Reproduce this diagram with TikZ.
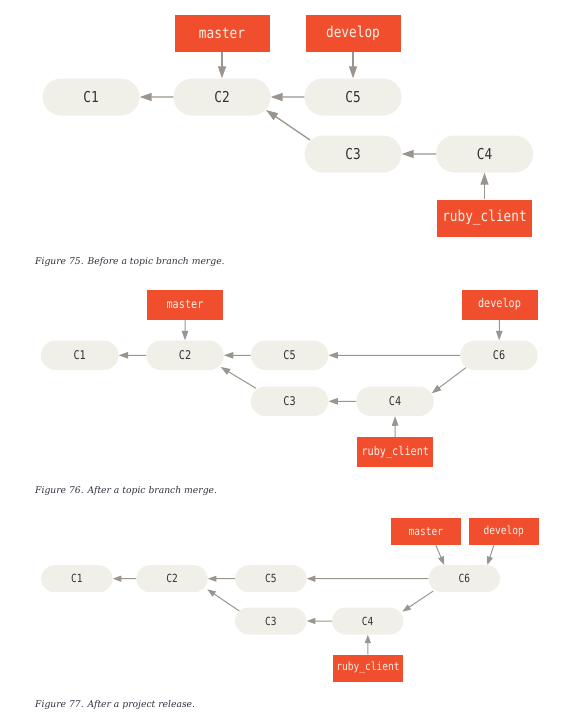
\documentclass[tikz,border=0pt]{standalone}
\usepackage{fontspec}
\setmainfont{Liberation Serif}
\newfontfamily\monof[FakeStretch=0.85]{DejaVu Sans Mono}
\newfontfamily\capf{DejaVu Serif}
\usetikzlibrary{shapes.misc,arrows.meta,calc}
\definecolor{cfill}{HTML}{F0EFE8}
\definecolor{cred}{HTML}{F14E2E}
\definecolor{carrow}{HTML}{9A958F}
\definecolor{ctext}{HTML}{333333}
\definecolor{clabel}{HTML}{F6F2EA}
\definecolor{ccap}{HTML}{2E2E3E}
\tikzset{
  commitbase/.style={rounded rectangle, fill=cfill, draw=none, inner sep=0pt, text=ctext},
  labelbase/.style={rectangle, fill=cred, draw=none, inner sep=0pt, text=clabel},
  ca/.style={commitbase, minimum width=97pt, minimum height=37pt, font=\monof\fontsize{15}{15}\selectfont},
  la/.style={labelbase, minimum width=95pt, minimum height=37pt, font=\monof\fontsize{15}{15}\selectfont},
  aa/.style={draw=carrow, line width=1.3pt, -{Triangle[length=12pt,width=8pt]}},
  cb/.style={commitbase, minimum width=77.5pt, minimum height=29.5pt, font=\monof\fontsize{12}{12}\selectfont},
  lb/.style={labelbase, minimum width=76pt, minimum height=30pt, font=\monof\fontsize{12}{12}\selectfont},
  ab/.style={draw=carrow, line width=1pt, -{Triangle[length=9.5pt,width=6.5pt]}},
  cc/.style={commitbase, minimum width=71.5pt, minimum height=27pt, font=\monof\fontsize{11.2}{11.2}\selectfont},
  lc/.style={labelbase, minimum width=70pt, minimum height=27pt, font=\monof\fontsize{11.2}{11.2}\selectfont},
  ac/.style={draw=carrow, line width=1pt, -{Triangle[length=8.5pt,width=6pt]}},
  caption/.style={anchor=west, inner sep=0pt, text=ccap, font=\capf\itshape\fontsize{9.2}{11}\selectfont},
}
\begin{document}
\begin{tikzpicture}[x=1pt,y=-1pt]
\useasboundingbox (0,0) rectangle (574,712);
% ---------- Figure 75 ----------
\node[la] (m1) at (222,33) {master};
\node[la] (d1) at (353,33) {develop};
\node[ca] (a1) at (91,97) {C1};
\node[ca] (a2) at (222,97) {C2};
\node[ca] (a5) at (353,97) {C5};
\node[ca] (a3) at (353,154) {C3};
\node[ca] (a4) at (484.5,154) {C4};
\node[la] (r1) at (484.5,218) {ruby\_client};
\draw[aa] (m1) -- (a2);
\draw[aa] (d1) -- (a5);
\draw[aa] (a2) -- (a1);
\draw[aa] (a5) -- (a2);
\draw[aa] (a4) -- (a3);
\draw[aa] (r1) -- (a4);
\draw[aa] ($(a3)+(-43,-14)$) -- ($(a2)+(44,13)$);
\node[caption] (cap1) at (35,262.5) {Figure 75. Before a topic branch merge.};
% ---------- Figure 76 ----------
\node[lb] (m2) at (185,304.5) {master};
\node[lb] (d2) at (499.5,304.5) {develop};
\node[cb] (b1) at (79.7,355.3) {C1};
\node[cb] (b2) at (185,355.3) {C2};
\node[cb] (b5) at (289.5,355.3) {C5};
\node[cb] (b6) at (499,355.3) {C6};
\node[cb] (b3) at (289.5,401.3) {C3};
\node[cb] (b4) at (395,401.3) {C4};
\node[lb] (r2) at (395.3,452) {ruby\_client};
\draw[ab] (m2) -- (b2);
\draw[ab] (d2) -- (b6);
\draw[ab] (b2) -- (b1);
\draw[ab] (b5) -- (b2);
\draw[ab] (b6) -- (b5);
\draw[ab] (b4) -- (b3);
\draw[ab] (r2) -- (b4);
\draw[ab] ($(b3)+(-33.5,-13)$) -- ($(b2)+(35.7,11.7)$);
\draw[ab] ($(b6)+(-33,12.3)$) -- ($(b4)+(36.7,-8)$);
\node[caption] (cap2) at (35,491) {Figure 76. After a topic branch merge.};
% ---------- Figure 77 ----------
\node[lc] (m3) at (425.8,531.7) {master};
\node[lc] (d3) at (503.8,531.7) {develop};
\node[cc] (e1) at (76.8,578.7) {C1};
\node[cc] (e2) at (172,578.7) {C2};
\node[cc] (e5) at (270.8,578.7) {C5};
\node[cc] (e6) at (464.3,578.7) {C6};
\node[cc] (e3) at (270.8,621) {C3};
\node[cc] (e4) at (367.7,621) {C4};
\node[lc] (r3) at (368,668) {ruby\_client};
\draw[ac] ($(m3.south)+(10,0)$) -- ($(e6.north)+(-20,0)$);
\draw[ac] ($(d3.south)+(-10,0)$) -- ($(e6.north)+(23,0)$);
\draw[ac] (e2) -- (e1);
\draw[ac] (e5) -- (e2);
\draw[ac] (e6) -- (e5);
\draw[ac] (e4) -- (e3);
\draw[ac] (r3) -- (e4);
\draw[ac] ($(e3)+(-31.5,-10)$) -- ($(e2)+(35.3,10.6)$);
\draw[ac] ($(e6)+(-31,12.3)$) -- ($(e4)+(34.6,-9.3)$);
\node[caption] (cap3) at (35,705) {Figure 77. After a project release.};
\end{tikzpicture}
\end{document}
